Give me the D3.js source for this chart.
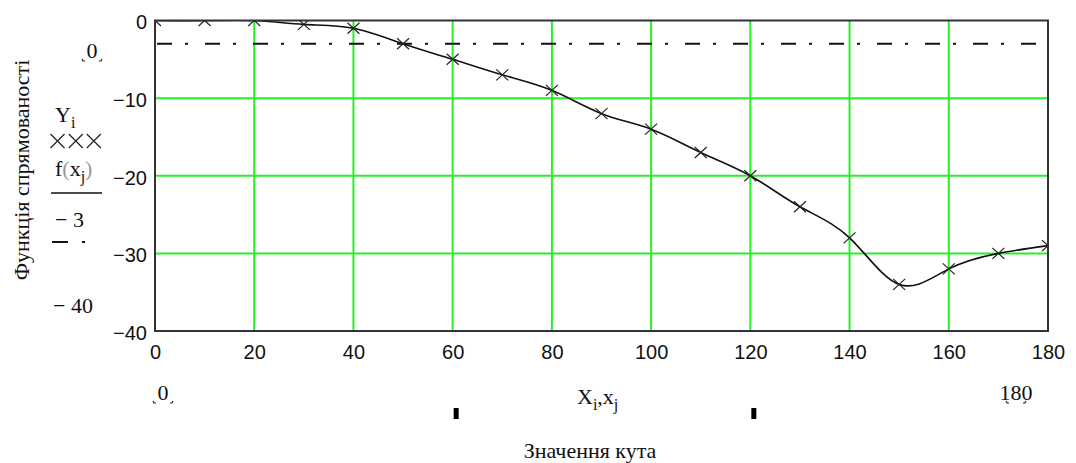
<!DOCTYPE html>
<html>
<head>
<meta charset="utf-8">
<script src="https://cdn.jsdelivr.net/npm/d3@7"></script>
<style>
  body { margin: 0; background: #fff; }
  svg { display: block; }
  .tick text { font-family: 'Liberation Sans', Arial, sans-serif; font-size: 20px; fill: #111; }
  .lbl { font-family: 'Liberation Serif', 'Times New Roman', serif; font-size: 22px; fill: #111; }
</style>
</head>
<body>
<svg id="chart"></svg>
<script>
// angle (deg) and directivity values Y_i
const angles = [0, 10, 20, 30, 40, 50, 60, 70, 80, 90, 100, 110, 120, 130, 140, 150, 160, 170, 180];
const values = [0, 0, 0, -0.5, -1, -3, -5, -7, -9, -12, -14, -17, -20, -24, -28, -34, -32, -30, -29];
const xTicks = [0, 20, 40, 60, 80, 100, 120, 140, 160, 180];
const yTicks = [0, -10, -20, -30, -40];
const xLimits = [0, 180];
const yLimits = [0, -40];
const refLevel = -3;
const xMarks = [60, 120];

const width = 1076, height = 463;
const svg = d3.select('#chart').attr('width', width).attr('height', height);

const x = d3.scaleLinear().domain(xLimits).range([155, 1048]);
const y = d3.scaleLinear().domain(yLimits).range([20.5, 331]);

svg.append('clipPath').attr('id', 'plot')
  .append('rect')
  .attr('x', x(0)).attr('y', y(0))
  .attr('width', x(180) - x(0)).attr('height', y(-40) - y(0));

// grid
const grid = svg.append('g');
grid.selectAll('line.v')
  .data(xTicks.slice(1, -1))
  .enter().append('line')
  .attr('x1', d => x(d)).attr('x2', d => x(d))
  .attr('y1', y(0)).attr('y2', y(-40))
  .attr('stroke', '#26f026').attr('stroke-width', 2);
grid.selectAll('line.h')
  .data(yTicks.slice(1, -1))
  .enter().append('line')
  .attr('x1', x(0)).attr('x2', x(180))
  .attr('y1', d => y(d)).attr('y2', d => y(d))
  .attr('stroke', '#26f026').attr('stroke-width', 2);

const plot = svg.append('g').attr('clip-path', 'url(#plot)');

// -3 level, dash-dot
plot.append('line')
  .attr('x1', x(0)).attr('x2', x(180))
  .attr('y1', y(refLevel)).attr('y2', y(refLevel))
  .attr('stroke', '#111').attr('stroke-width', 2)
  .attr('stroke-dasharray', '15,13,3,17')
  .attr('stroke-dashoffset', -2);

// interpolated curve f(x_j)
const line = d3.line()
  .x((d, i) => x(angles[i]))
  .y(d => y(d))
  .curve(d3.curveNatural);
plot.append('path')
  .attr('d', line(values))
  .attr('fill', 'none')
  .attr('stroke', '#111')
  .attr('stroke-width', 1.6);

// markers
const cross = (cx, cy, w, h) =>
  'M' + (cx - w) + ',' + (cy - h) + 'L' + (cx + w) + ',' + (cy + h) +
  'M' + (cx - w) + ',' + (cy + h) + 'L' + (cx + w) + ',' + (cy - h);
plot.selectAll('path.mk')
  .data(values)
  .enter().append('path')
  .attr('class', 'mk')
  .attr('d', (d, i) => cross(x(angles[i]), y(d), 6, 5.5))
  .attr('stroke', '#222').attr('stroke-width', 1.2).attr('fill', 'none');

// frame
svg.append('rect')
  .attr('x', x(0)).attr('y', y(0))
  .attr('width', x(180) - x(0)).attr('height', y(-40) - y(0))
  .attr('fill', 'none').attr('stroke', '#333').attr('stroke-width', 2);

// axes (labels only)
svg.append('g')
  .attr('transform', 'translate(0,' + (y(-40) + 12) + ')')
  .call(d3.axisBottom(x).tickValues(xTicks).tickSize(0).tickPadding(2))
  .call(g => g.select('.domain').remove());
svg.append('g')
  .attr('transform', 'translate(' + (x(0) - 8) + ',2)')
  .call(d3.axisLeft(y).tickValues(yTicks).tickSize(0).tickPadding(0)
    .tickFormat(d => d < 0 ? '\u2212' + Math.abs(d) : d))
  .call(g => g.select('.domain').remove());

// left legend
const leg = svg.append('g');
const corner = (g, cx, by) => {
  g.append('path')
    .attr('d', 'M' + (cx - 10) + ',' + (by - 1) + 'l1,2l2,0M' + (cx + 10) + ',' + (by - 1) + 'l-1,2l-2,0')
    .attr('stroke', '#222').attr('stroke-width', 1.2).attr('fill', 'none');
};
leg.append('text').attr('class', 'lbl').attr('x', 92).attr('y', 58).attr('text-anchor', 'middle').text(yLimits[0]);
corner(leg, 92, 60);

const yi = leg.append('text').attr('class', 'lbl').attr('x', 55).attr('y', 122);
yi.append('tspan').text('Y');
yi.append('tspan').attr('dy', 6).attr('font-size', 16).text('i');

[57.5, 75.8, 93.8].forEach(cx => {
  leg.append('path').attr('d', cross(cx, 141, 7, 7))
    .attr('stroke', '#222').attr('stroke-width', 1.2).attr('fill', 'none');
});

const fx = leg.append('text').attr('class', 'lbl').attr('x', 55).attr('y', 176);
fx.append('tspan').text('f');
fx.append('tspan').attr('fill', '#999').text('(');
fx.append('tspan').text('x');
fx.append('tspan').attr('dy', 6).attr('font-size', 16).text('j');
fx.append('tspan').attr('dy', -6).attr('fill', '#999').text(')');

leg.append('line').attr('x1', 51).attr('x2', 102).attr('y1', 193).attr('y2', 193)
  .attr('stroke', '#111').attr('stroke-width', 1.6);

leg.append('text').attr('class', 'lbl').attr('x', 55).attr('y', 227).text('\u2212 ' + Math.abs(refLevel));
leg.append('line').attr('x1', 52).attr('x2', 86).attr('y1', 242).attr('y2', 242)
  .attr('stroke', '#111').attr('stroke-width', 2).attr('stroke-dasharray', '16,14,3,20');

leg.append('text').attr('class', 'lbl').attr('x', 53).attr('y', 313).text('\u2212 ' + Math.abs(yLimits[1]));

svg.append('text').attr('class', 'lbl')
  .attr('transform', 'translate(29,170) rotate(-90)')
  .attr('text-anchor', 'middle')
  .text('Функція спрямованості');

// bottom
const bot = svg.append('g');
bot.append('text').attr('class', 'lbl').attr('x', 163).attr('y', 400).attr('text-anchor', 'middle').text(xLimits[0]);
corner(bot, 163, 402);
bot.append('text').attr('class', 'lbl').attr('x', 1016).attr('y', 400).attr('text-anchor', 'middle').text(xLimits[1]);
corner(bot, 1016, 402);

const xl = bot.append('text').attr('class', 'lbl').attr('x', 577).attr('y', 404);
xl.append('tspan').text('X');
xl.append('tspan').attr('dy', 6).attr('font-size', 16).text('i');
xl.append('tspan').attr('dy', -6).text(',x');
xl.append('tspan').attr('dy', 6).attr('font-size', 16).text('j');

bot.selectAll('rect.xm')
  .data(xMarks)
  .enter().append('rect')
  .attr('x', d => x(d) + 1).attr('y', 408)
  .attr('width', 5).attr('height', 11)
  .attr('fill', '#000');

bot.append('text').attr('class', 'lbl').attr('x', 590).attr('y', 458)
  .attr('text-anchor', 'middle').text('Значення кута');
</script>
</body>
</html>
